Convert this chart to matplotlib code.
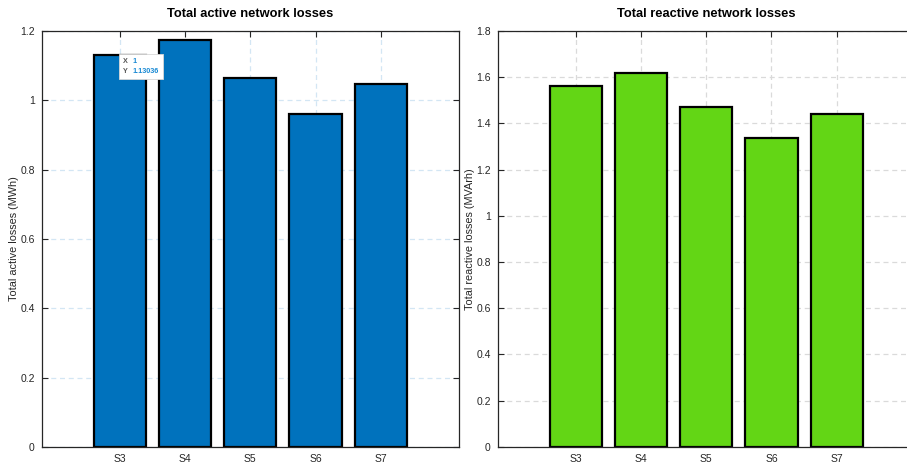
import matplotlib.pyplot as plt
from matplotlib.offsetbox import TextArea, HPacker, VPacker, AnnotationBbox

plt.rcParams['font.family'] = ['Liberation Sans', 'DejaVu Sans']

scenarios = ['S3', 'S4', 'S5', 'S6', 'S7']
x_pos = [1, 2, 3, 4, 5]
active_losses = [1.13036, 1.174, 1.064, 0.961, 1.046]     # MWh
reactive_losses = [1.563, 1.618, 1.469, 1.336, 1.439]    # MVArh

TXT = '#262626'


def style_axes(ax, ymax, grid_color):
    ax.set_xlim(-0.2, 6.2)
    ax.set_ylim(0, ymax)
    ax.set_xticks(x_pos)
    ax.set_xticklabels(scenarios)
    ax.set_yticks([round(0.2 * i, 1) for i in range(int(round(ymax / 0.2)) + 1)])
    ax.yaxis.set_major_formatter(plt.FuncFormatter(lambda v, p: f'{v:g}'))
    ax.tick_params(direction='in', length=4, width=0.8, colors=TXT, labelsize=7.5,
                   top=True, right=True, pad=5)
    ax.tick_params(axis='x', pad=5)
    for s in ax.spines.values():
        s.set_color(TXT)
        s.set_linewidth(0.9)
    ax.set_axisbelow(True)
    ax.grid(True, color=grid_color, linestyle=(0, (4, 3)), linewidth=0.9)


fig = plt.figure(figsize=(9.07, 4.68), dpi=100)
ax1 = fig.add_axes([0.046, 0.045, 0.460, 0.889])
ax2 = fig.add_axes([0.5487, 0.045, 0.460, 0.889])

# Active losses
ax1.bar(x_pos, active_losses, width=0.8, color='#0072BD', edgecolor='black', linewidth=1.6)
style_axes(ax1, 1.2, '#d3e6f4')
ax1.set_title('Total active network losses', fontsize=9.3, fontweight='bold', pad=10)
ax1.set_ylabel('Total active losses (MWh)', fontsize=7.8, color=TXT, labelpad=0.5)

# Reactive losses
ax2.bar(x_pos, reactive_losses, width=0.8, color='#63D615', edgecolor='black', linewidth=1.6)
style_axes(ax2, 1.8, '#dadada')
ax2.set_title('Total reactive network losses', fontsize=9.3, fontweight='bold', pad=10)
ax2.set_ylabel('Total reactive losses (MVArh)', fontsize=7.8, color=TXT, labelpad=0.5)

# Data tip on the first active-loss bar
lab = dict(color='#555555', fontsize=5.2, fontweight='bold')
val = dict(color='#1a8ad4', fontsize=5.2, fontweight='bold')
row_x = HPacker(children=[TextArea('X', textprops=lab), TextArea(f'{x_pos[0]}', textprops=val)],
                align='baseline', pad=0, sep=3.5)
row_y = HPacker(children=[TextArea('Y', textprops=lab), TextArea(f'{active_losses[0]:.5f}', textprops=val)],
                align='baseline', pad=0, sep=3.5)
tip = VPacker(children=[row_x, row_y], align='left', pad=0, sep=2.5)
ab = AnnotationBbox(tip, (x_pos[0], active_losses[0]), xycoords='data',
                    xybox=(2, -2), boxcoords='offset points', box_alignment=(0, 1),
                    pad=0.6, bboxprops=dict(boxstyle='square', fc='white', ec='#d8d8d8', lw=0.6))
ax1.add_artist(ab)

fig.savefig('out.png', dpi=100)
